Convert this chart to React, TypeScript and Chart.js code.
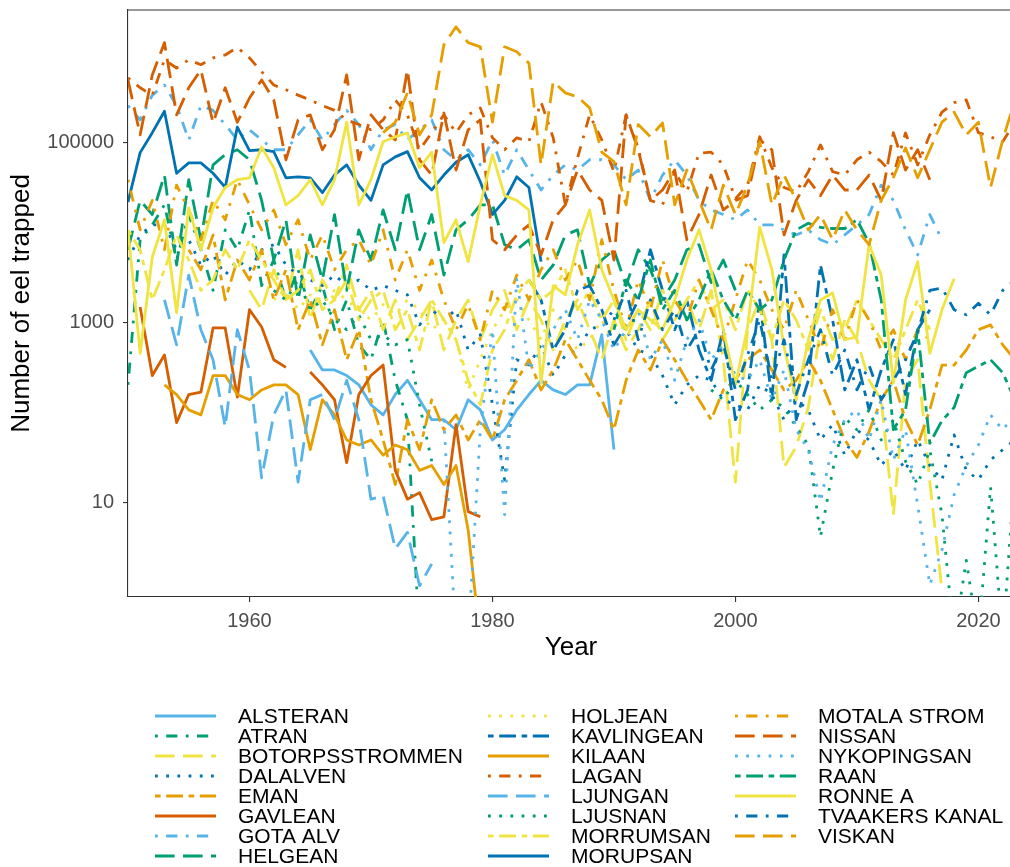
import React, { useEffect, useRef } from "react";
import { Chart, registerables } from "chart.js";

Chart.register(...registerables);

const FONT = '"Liberation Sans", Arial, Helvetica, sans-serif';

const xTickYears = [1960, 1980, 2000, 2020];
const yTickValues = [10, 1000, 100000];

const ALSTERAN = [500,300,300,260,205,123,95,160,230,140,84,84,65,140,108,50,65,108,160,230,180,160,205,205,740,39];
const ATRAN = [205,8400,12300,20500,5000,16000,6500,2300,10800,6500,18000,2600,5000,1800,3900,1400,2600,840,1800,570,390,1080,230,84,0.3];
const BOTORPSSTROMMEN = [2300,1400,3900,1800,6500,1080,3000,1800,4400,1400,2300,840,1800,650,1080,1800,500,1080,1800,650,1400,2300,840,1800,1080,500,1080,1800,840,390,1080,500,840,1800,650,1080,1800,840,2300,390,17,840,1800,650,25,42,115,840,390,1080,650,230,140,7.4,230,390,17,1.08];
const DALALVEN = [5000,9500,12300,12300,6500,8400,4400,5700,3400,5000,3900,6500,7400,4400,3400,3000,2600,3400,2600,3000,2300,2600,2300,2050,950,1400,1080,1400,500,740,123,18,390,340,570,260,440,500,840,950,1400,840,500,440,260,123,205,260,230,140,123,108,205,160,84,140,108,50,74,34,65,50,26,39,23,50,26,18,57,23,18,30,39,50];
const EMAN = [6500,3900,9500,1800,5000,3000,6500,1800,3900,840,1800,570,1400,390,840,140,50,16,84,39,140,65,95,50,84,50,140,230,390,180,300,650,390,230,140,65,230,500,300,650,390,230,140,84,180,230,390,500,300,180,230,390,230,108,50,32,62,140,230,84,44,108,340,340,500,840,950,570,390];
const GAVLEAN = [1500,260,440,78,160,170,880,880,150,1400,900,390,320,null,285,205,140,28,160,260,340,23,11,13,6.5,7,74,8,7];
const GOTA_ALV = [260000,180000,340000,440000,260000,108000,260000,230000,160000,108000,140000,108000,84000,84000,123000,180000,108000,160000,230000,160000,84000,140000,160000,108000,140000,180000,84000,65000,84000,57000,108000,44000,84000,50000,30000,44000,57000,50000,65000,65000,57000,39000,50000,23000,44000,65000,44000,23000,18000,16000,14000,18000,12300,12300,10800,9500,10800,8400,7400,9500,12300,16000,34000,23000,10800,5700,16000,8400];
const HELGEAN = [6500,23000,16000,44000,4400,39000,8400,57000,74000,84000,65000,23000,5000,14000,1800,9500,3000,16000,2300,10800,5000,18000,6500,30000,6500,16000,3400,10800,14000,20500,20500,7400,6500,8400,3000,4400,9500,10800,2600,5000,6500,2600,6500,3900,1800,3000,6500,7400,2800,5000,2300];
const HOLJEAN = [1800,2300,1400,2050,1600,2300,1800,1400,1080,1600,1230,1800,1400,840,1080,650,180,390,840,1400,1800,1080,650,1400,840,500,650,1080,570];
const KAVLINGEAN = [3000,1800,500,840,2300,2600,1400,570,950,1800,6500,2300,840,1800,500,230,840,84,180,1800,140,5700,84,230,4400,1080,180,390,108,300,650,160,840,1400];
const KILAAN = [205,160,108,95,260,260,160,140,180,205,205,160,39,140,95,50,44,50,34,44,39,23,26,16,26,5,0.3];
const LAGAN = [530000,410000,340000,840000,680000,840000,740000,880000,950000,1150000,880000,620000,440000,390000,340000,300000,260000,230000,180000,160000,140000,180000,300000,205000,84000,130000,205000,130000,205000,245000,114000,84000,114000,103000,285000,114000,20500,68000,205000,108000,48000,205000,88000,23000,20500,48000,28500,77000,79000,57000,24000,34000,117000,53000,32000,28500,48000,95000,48000,44000,65000,79000,62000,44000,129000,57000,123000,220000,280000,300000,130000,117000,103000,170000];
const LJUNGAN = [1800,570,3400,840,390,70,840,300,19,95,180,17,140,160,84,230,84,11,12,3.1,4.7,1.2,2.1];
const LJUSNAN = [2300,1800,3000,1400,1800,1080,840,1230,650,740,570,650,123,29,null,null,null,null,null,null,null,null,null,null,null,null,null,null,null,null,null,null,null,null,null,null,180,140,230,160,108,140,115,70,44,4.2,23,88,65,108,50,84,29,16,39,7.4,0.3,2.3,0.3,15,0.3,23];
const MORRUMSAN = [10800,6500,1800,3900,9500,5000,2300,3000,6500,3900,8400,5000,3000,1800,2300,3900,1400,1800,3000,1080,1800,2300,840,1400,500,1800,1080,650,230,123,500,840,2050,3000,1800,2300,3900,1400,2300,1080,1800,650,1400,840,2300,1080,1800,3000,1400,1800,840,2300,1400,650,1800,1080,500,1400,650,840,1800,1080,650,390,840,1800,840];
const MORUPSAN = [22000,78000,130000,225000,46000,60000,60000,46000,32000,150000,82000,84000,80000,41000,42000,41000,28000,44000,57000,34000,23000,57000,70000,80000,41000,30000,44000,61000,74000,37000,16000,23000,42000,32000,4800];
const MOTALA_STROM = [39000,10800,23000,6500,34000,18000,8400,23000,14000,39000,20500,10800,18000,7400,14000,5000,9500,3900,6500,8400,4400,10800,3000,6500,2300,5000,1800,840,1600,650,2300,1400,3400,1800,3900,6500,3000,5000,1800,8400,2300,840,3000,1400,5000,1800,1080,3000,1400,650,1800,5000,3000,1400,840,2300,1080,500,1400,650,1800,1080,500,840,390,840,650];
const NISSAN = [500000,123000,570000,1300000,205000,410000,650000,167000,410000,170000,315000,500000,300000,65000,180000,205000,84000,140000,570000,65000,205000,140000,108000,650000,65000,44000,215000,50000,140000,180000,8400,6500,9500,12300,5700,14000,20500,50000,30000,23000,5000,205000,84000,23000,30000,50000,8400,16000,44000,18000,23000,26000,108000,84000,9500,23000,39000,26000,44000,30000,30000,44000,23000,130000,50000,84000,39000];
const NYKOPINGSAN = [84,0.3,0.3,65,840,7.4,3200,300,500,840,1400,650,1800,1080,500,840,1400,390,650,230,650,1080,390,570,260,230,390,140,300,65,39,10.3,44,84,108,50,140,30,65,9.5,1.23,3.0,12.3,26,44,95,65,95];
const RAAN = [840,3000,1800,5000,1400,2300,1080,1800,3900,1800,1080,2300,1400,1800,5000,10800,12800,11500,11200,11200,14000,7700,1800,65,108,840,46,82,115,280,330,390,280,140];
const RONNE_A = [10800,460,5400,14000,1300,19000,6500,19000,32000,39000,41000,90000,53000,20500,26000,39000,20500,39000,170000,20500,39000,103000,117000,129000,53000,79000,7800,14000,4800,20500,74000,26000,23000,18000,215,2600,2050,7400,18000,3900,1800,840,1400,1080,840,1800,5000,10800,3900,840,205,900,11600,3900,540,140,650,1800,2150,650,700,7400,3400,215,1800,4800,460,1400,3100];
const TVAAKERS_KANAL = [1080,2300,650,1800,840,1400,500,840,300,570,180,440,1080,230,650,160,390,840,260,500,180,340,140,230,390,790,2300,2450,1400,1230,1650,1230,2300,3000];
const VISKAN = [130000,170000,360000,123000,205000,1230000,1950000,1300000,1170000,170000,1170000,1030000,770000,57000,480000,360000,325000,245000,79000,62000,20500,160000,117000,167000,20500,50000,23000,10800,34000,16000,34000,103000,20500,44000,23000,10800,16000,8400,18000,10800,7400,23000,41000,88000,41000,84000,170000,220000,123000,170000,32000,108000,300000];

const seriesNames = [
  "ALSTERAN", "ATRAN", "BOTORPSSTROMMEN", "DALALVEN", "EMAN", "GAVLEAN", "GOTA ALV", "HELGEAN",
  "HOLJEAN", "KAVLINGEAN", "KILAAN", "LAGAN", "LJUNGAN", "LJUSNAN", "MORRUMSAN", "MORUPSAN",
  "MOTALA STROM", "NISSAN", "NYKOPINGSAN", "RAAN", "RONNE A", "TVAAKERS KANAL", "VISKAN",
];
const seriesStart = [1965, 1950, 1960, 1950, 1955, 1951, 1950, 1950, 1962, 1983, 1953, 1950, 1953, 1962, 1950, 1950, 1950, 1950, 1976, 1990, 1950, 1990, 1971];
const seriesValues = [
  ALSTERAN, ATRAN, BOTORPSSTROMMEN, DALALVEN, EMAN, GAVLEAN, GOTA_ALV, HELGEAN,
  HOLJEAN, KAVLINGEAN, KILAAN, LAGAN, LJUNGAN, LJUSNAN, MORRUMSAN, MORUPSAN,
  MOTALA_STROM, NISSAN, NYKOPINGSAN, RAAN, RONNE_A, TVAAKERS_KANAL, VISKAN,
];

const palette = ["#56B4E9", "#009E73", "#F0E442", "#0072B2", "#E69F00", "#D55E00"];
const LWD = 2.8;
const lineTypes = [[], [1, 3, 4, 3], [7, 3], [1, 3], [2, 2, 6, 2]];

const legendCols = [155, 488, 735];

const decorPlugin = {
  id: "decor",
  afterDraw(chart: any) {
    const ctx = chart.ctx as CanvasRenderingContext2D;
    const a = chart.chartArea;
    ctx.save();
    ctx.strokeStyle = "#333333";
    ctx.lineWidth = 1.1;
    ctx.setLineDash([]);
    ctx.beginPath();
    ctx.moveTo(a.left, a.top);
    ctx.lineTo(a.right, a.top);
    ctx.stroke();

    ctx.fillStyle = "#000000";
    ctx.font = `26px ${FONT}`;
    ctx.textAlign = "center";
    ctx.textBaseline = "middle";
    ctx.fillText("Year", 571, 648);
    ctx.save();
    ctx.translate(22, (a.top + a.bottom) / 2);
    ctx.rotate(-Math.PI / 2);
    ctx.fillText("Number of eel trapped", 0, 0);
    ctx.restore();

    ctx.font = `21px ${FONT}`;
    ctx.textAlign = "left";
    chart.data.datasets.forEach((ds: any, i: number) => {
      const col = Math.floor(i / 8);
      const row = i % 8;
      const x0 = legendCols[col];
      const y = 716 + row * 20;
      ctx.strokeStyle = ds.borderColor;
      ctx.lineWidth = ds.borderWidth;
      ctx.lineCap = "butt";
      ctx.setLineDash(ds.borderDash);
      ctx.beginPath();
      ctx.moveTo(x0, y);
      ctx.lineTo(x0 + 61, y);
      ctx.stroke();
      ctx.setLineDash([]);
      ctx.fillStyle = "#000000";
      ctx.fillText(ds.label, x0 + 83, y + 1);
    });
    ctx.restore();
  },
};

export default function App() {
  const ref = useRef<HTMLCanvasElement>(null);
  useEffect(() => {
    if (!ref.current) return;
    const datasets = seriesNames.map((name, i) => {
      const start = seriesStart[i];
      const vals = seriesValues[i];
      return {
        label: name,
        data: vals.map((v, k) => ({ x: start + k, y: v })),
        borderColor: palette[i % 6],
        backgroundColor: palette[i % 6],
        borderWidth: LWD,
        borderDash: lineTypes[i % 5].map((d) => d * LWD),
        borderCapStyle: "butt",
        borderJoinStyle: "round",
        pointRadius: 0,
        pointHoverRadius: 0,
        fill: false,
        tension: 0,
        spanGaps: false,
        clip: 0,
        order: seriesNames.length - i,
      };
    });
    const chart = new Chart(ref.current, {
      type: "line",
      data: { datasets: datasets as any },
      options: {
        animation: false,
        responsive: false,
        devicePixelRatio: 1,
        layout: { padding: { top: 10, left: 0, right: 0, bottom: 0 } },
        plugins: { legend: { display: false }, tooltip: { enabled: false } },
        scales: {
          x: {
            type: "linear",
            min: 1950,
            max: 2022.6,
            afterBuildTicks: (s: any) => {
              s.ticks = xTickYears.map((v) => ({ value: v }));
            },
            afterFit: (s: any) => {
              s.height = 270;
              s.paddingLeft = 0;
              s.paddingRight = 0;
            },
            ticks: {
              color: "#4D4D4D",
              font: { family: FONT, size: 20 },
              padding: 7,
              maxRotation: 0,
              autoSkip: false,
              callback: (v: any) => String(v),
            },
            grid: { display: true, drawOnChartArea: false, drawTicks: true, tickLength: 5, color: "#333333", lineWidth: 1.1 },
            border: { display: true, color: "#333333", width: 1.1 },
          },
          y: {
            type: "logarithmic",
            min: 0.9,
            max: 3e6,
            afterBuildTicks: (s: any) => {
              s.ticks = yTickValues.map((v) => ({ value: v }));
            },
            afterFit: (s: any) => {
              s.width = 128;
              s.paddingTop = 0;
              s.paddingBottom = 0;
            },
            ticks: {
              color: "#4D4D4D",
              font: { family: FONT, size: 20 },
              padding: 9,
              autoSkip: false,
              callback: (v: any) => String(v),
            },
            grid: { display: true, drawOnChartArea: false, drawTicks: true, tickLength: 5, color: "#333333", lineWidth: 1.1 },
            border: { display: true, color: "#333333", width: 1.1 },
          },
        },
      },
      plugins: [decorPlugin],
    } as any);
    return () => chart.destroy();
  }, []);
  return (
    <div style={{ position: "absolute", left: 0, top: 0, width: 1010, height: 867, background: "#ffffff" }}>
      <canvas ref={ref} width={1010} height={867} style={{ display: "block" }} />
    </div>
  );
}
